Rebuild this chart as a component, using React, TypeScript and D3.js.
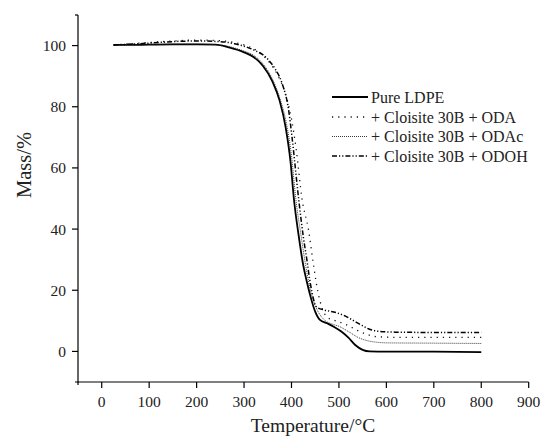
import React from "react";
import * as d3 from "d3";

const xTicks = [0, 100, 200, 300, 400, 500, 600, 700, 800, 900];
const yTicks = [0, 20, 40, 60, 80, 100];

const seriesNames = [
  "Pure LDPE",
  "+ Cloisite 30B + ODA",
  "+ Cloisite 30B + ODAc",
  "+ Cloisite 30B + ODOH",
];

const ldpeT = [25, 50, 100, 150, 200, 240, 270, 300, 320, 340, 360, 375, 388, 398, 405, 415, 425, 432, 440, 450, 460, 475, 490, 505, 520, 535, 550, 565, 600, 700, 800];
const ldpeM = [100.2, 100.2, 100.3, 100.4, 100.4, 100.3, 99.3, 97.8, 96.3, 93.3, 88.2, 82, 73, 62, 50, 38, 28, 23, 18, 13, 10.3, 9.2, 8, 6.5, 4.5, 2, 0.5, 0, -0.1, -0.1, -0.2];

const odaT = [25, 100, 150, 200, 250, 280, 300, 325, 355, 372, 387, 400, 410, 422, 436, 446, 455, 465, 475, 490, 510, 525, 540, 560, 580, 620, 700, 800];
const odaM = [100.2, 101, 101.5, 101.8, 101.6, 101, 100.2, 98.5, 94.2, 90, 84.4, 76, 66, 50, 39.6, 28.7, 20, 14, 11.2, 10.2, 9.1, 8, 6.8, 5.5, 4.8, 4.6, 4.6, 4.6];

const odacT = [25, 100, 200, 250, 280, 300, 320, 340, 360, 375, 390, 400, 409, 420, 430, 440, 450, 460, 470, 485, 500, 520, 540, 560, 580, 600, 700, 800];
const odacM = [100.2, 100.4, 100.5, 100.2, 99.2, 98.2, 96.8, 94, 89, 83, 74, 64, 50, 38, 28, 20, 15, 12, 10.2, 9, 8.2, 6.5, 4.6, 3.5, 3, 2.8, 2.7, 2.6];

const odohT = [25, 100, 150, 200, 250, 280, 300, 320, 348, 365, 380, 394, 401, 415, 425, 432, 440, 453, 470, 489, 510, 527, 545, 562, 587, 620, 700, 800];
const odohM = [100.2, 100.8, 101.3, 101.5, 101.3, 100.6, 99.8, 98.6, 95.9, 92.5, 87.7, 78.9, 70.2, 50, 37.4, 30.4, 22, 14.5, 13.5, 12.9, 11.8, 10.4, 8.8, 7.4, 6.5, 6.3, 6.2, 6.2];

const W = 546;
const H = 437;
const FONT = '"Liberation Serif", "DejaVu Serif", serif';

const x = d3.scaleLinear().domain([-50, 900]).range([78, 528.7]);
const y = d3.scaleLinear().domain([-10, 110]).range([382, 15]);

const styles = [
  { width: 1.8, dash: "none", color: "#000" },
  { width: 1.3, dash: "1.2 5", color: "#111" },
  { width: 0.9, dash: "1 1", color: "#222" },
  { width: 1.5, dash: "5 2 1.2 2 1.2 2", color: "#000" },
];

const txt: React.CSSProperties = { fontFamily: FONT };

export default function App() {
  const data = [
    ldpeT.map((t, i) => [t, ldpeM[i]]),
    odaT.map((t, i) => [t, odaM[i]]),
    odacT.map((t, i) => [t, odacM[i]]),
    odohT.map((t, i) => [t, odohM[i]]),
  ] as [number, number][][];
  const line = d3
    .line<[number, number]>()
    .x((d) => x(d[0]))
    .y((d) => y(d[1]))
    .curve(d3.curveMonotoneX);

  const legendY = [97, 117, 136.5, 156];

  return (
    <svg
      width={W}
      height={H}
      style={{ position: "absolute", left: 0, top: 0, background: "#fff" }}
    >
      <rect width={W} height={H} fill="#fff" />
      {/* axes */}
      <line x1={75} x2={x(900)} y1={382} y2={382} stroke="#000" strokeWidth={1.2} />
      <line x1={78} x2={78} y1={15} y2={382.6} stroke="#000" strokeWidth={1.2} />
      <line x1={75} x2={78} y1={15} y2={15} stroke="#000" strokeWidth={1.2} />
      <line x1={78} x2={78} y1={382} y2={385} stroke="#000" strokeWidth={1.2} />
      {xTicks.map((t) => (
        <g key={"xt" + t}>
          <line x1={x(t)} x2={x(t)} y1={382} y2={388} stroke="#000" strokeWidth={1.2} />
          <text x={x(t)} y={407} textAnchor="middle" fontSize={15.5} fill="#222" style={txt}>
            {t}
          </text>
        </g>
      ))}
      {yTicks.map((t) => (
        <g key={"yt" + t}>
          <line x1={72} x2={78} y1={y(t)} y2={y(t)} stroke="#000" strokeWidth={1.2} />
          <text x={66} y={y(t)} dy="0.35em" textAnchor="end" fontSize={15.5} fill="#222" style={txt}>
            {t}
          </text>
        </g>
      ))}
      <text x={313} y={432} textAnchor="middle" fontSize={19.5} fill="#222" style={txt}>
        Temperature/°C
      </text>
      <text
        transform={`translate(31,165) rotate(-90)`}
        textAnchor="middle"
        fontSize={20.5}
        fill="#222"
        style={txt}
      >
        Mass/%
      </text>
      {/* curves */}
      {data.map((d, i) => (
        <path
          key={"c" + i}
          d={line(d) || ""}
          fill="none"
          stroke={styles[i].color}
          strokeWidth={styles[i].width}
          strokeDasharray={styles[i].dash}
        />
      ))}
      {/* legend */}
      {seriesNames.map((n, i) => (
        <g key={"lg" + i}>
          <line
            x1={332}
            x2={368}
            y1={legendY[i]}
            y2={legendY[i]}
            stroke={styles[i].color}
            strokeWidth={styles[i].width}
            strokeDasharray={styles[i].dash}
          />
          <text x={371} y={legendY[i]} dy="0.35em" fontSize={16} fill="#222" style={txt}>
            {n}
          </text>
        </g>
      ))}
    </svg>
  );
}
